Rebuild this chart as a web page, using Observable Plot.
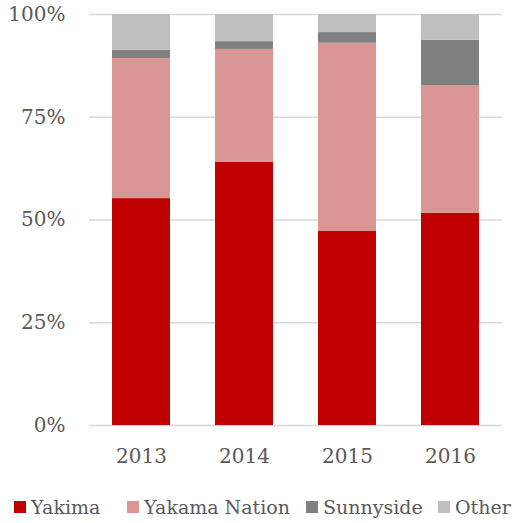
<!DOCTYPE html>
<html>
<head>
<meta charset="utf-8">
<script src="https://cdn.jsdelivr.net/npm/d3@7"></script>
<script src="https://cdn.jsdelivr.net/npm/@observablehq/plot@0.6"></script>
<style>
  html, body { margin: 0; padding: 0; background: #fff; }
  #chart { width: 514px; font-family: "DejaVu Serif", serif; }
  .legend { position: relative; height: 48px; font-family: "DejaVu Serif", serif; font-size: 19px; color: #595959; white-space: nowrap; }
  .legend .item { position: absolute; top: 20px; height: 24px; line-height: 24px; display: flex; align-items: center; }
  .legend .sw { width: 12px; height: 12px; margin-right: 5px; display: inline-block; }
</style>
</head>
<body>
<div id="chart"></div>
<script>
const years = ["2013", "2014", "2015", "2016"];
const series = ["Yakima", "Yakama Nation", "Sunnyside", "Other"];
const colors = ["#C00000", "#DA9694", "#808080", "#BFBFBF"];
const yakima = [55.2, 64.0, 47.2, 51.6];
const yakamaNation = [34.1, 27.5, 45.8, 31.1];
const sunnyside = [2.0, 1.9, 2.6, 11.0];
const other = [8.7, 6.6, 4.4, 6.3];
const yTicks = [0, 25, 50, 75, 100];
const legendLeft = [14, 127, 306, 438];

const valuesBySeries = [yakima, yakamaNation, sunnyside, other];
const data = [];
series.forEach((s, si) => {
  years.forEach((y, yi) => {
    data.push({ year: y, series: s, value: valuesBySeries[si][yi] });
  });
});

const plot = Plot.plot({
  width: 514,
  height: 475,
  marginLeft: 89,
  marginRight: 12,
  marginTop: 14,
  marginBottom: 50,
  style: { fontFamily: "DejaVu Serif, serif", fontSize: "20px", color: "#595959", background: "#fff" },
  x: { domain: years, paddingInner: 0.44, paddingOuter: 0.22, label: null },
  y: { domain: [0, 100], label: null },
  color: { domain: series, range: colors },
  marks: [
    Plot.ruleY(yTicks, { stroke: "#D9D9D9", strokeWidth: 1.3 }),
    Plot.barY(data, Plot.stackY({ order: series }, { x: "year", y: "value", fill: "series" })),
    Plot.axisX({ tickSize: 0, tickPadding: 23, fontSize: 20, fill: "#595959", label: null }),
    Plot.axisY({ ticks: yTicks, tickFormat: d => d + "%", tickSize: 0, tickPadding: 24, fontSize: 20, fill: "#595959", label: null })
  ]
});
document.getElementById("chart").appendChild(plot);

const legend = document.createElement("div");
legend.className = "legend";
series.forEach((s, i) => {
  const item = document.createElement("span");
  item.className = "item";
  item.style.left = legendLeft[i] + "px";
  const sw = document.createElement("span");
  sw.className = "sw";
  sw.style.background = colors[i];
  item.appendChild(sw);
  item.appendChild(document.createTextNode(s));
  legend.appendChild(item);
});
document.getElementById("chart").appendChild(legend);
</script>
</body>
</html>
